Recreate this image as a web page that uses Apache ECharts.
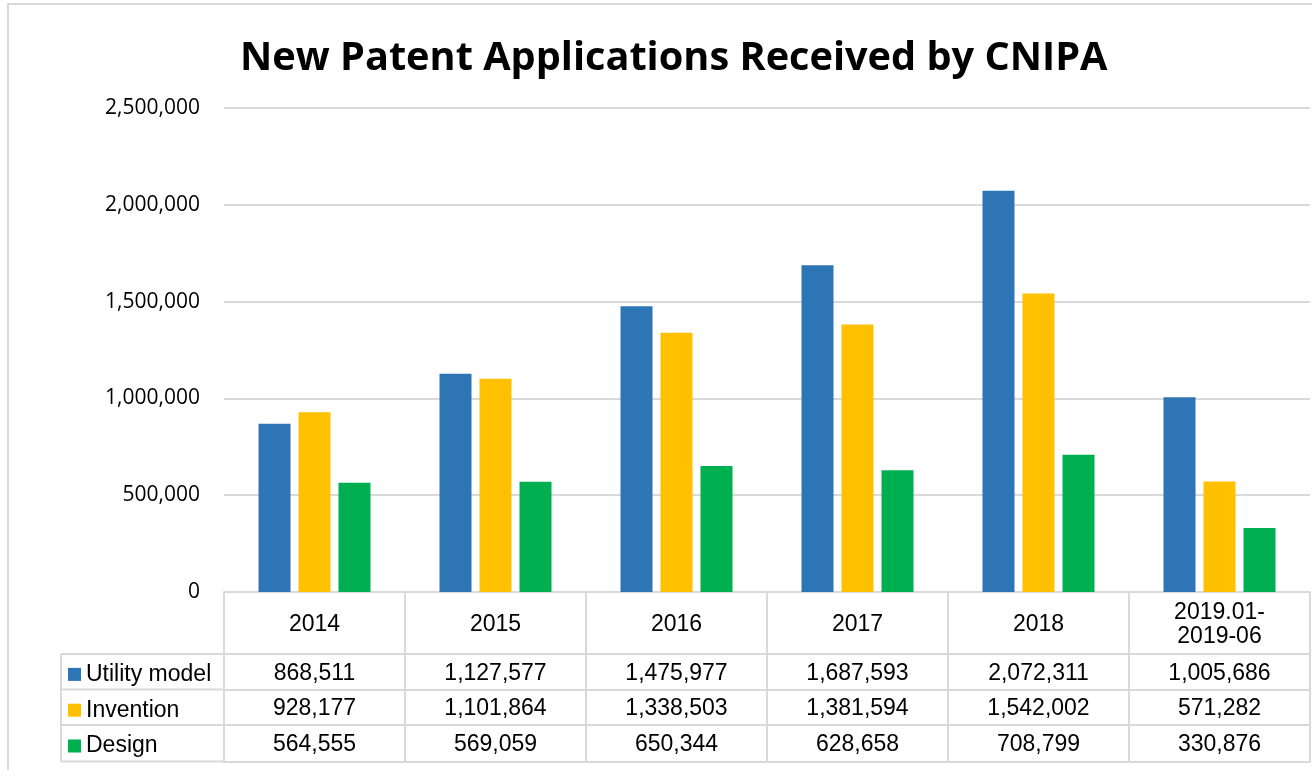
<!DOCTYPE html>
<html>
<head>
<meta charset="utf-8">
<script src="https://cdn.jsdelivr.net/npm/echarts@6/dist/echarts.min.js"></script>
<style>
  html, body { margin: 0; padding: 0; background: #fff; }
  #chart { width: 1312px; height: 770px; }
</style>
</head>
<body>
<div id="chart"></div>
<script>
const categories = ["2014", "2015", "2016", "2017", "2018", "2019.01-\n2019-06"];
const seriesNames = ["Utility model", "Invention", "Design"];
const utilityModel = [868511, 1127577, 1475977, 1687593, 2072311, 1005686];
const invention = [928177, 1101864, 1338503, 1381594, 1542002, 571282];
const design = [564555, 569059, 650344, 628658, 708799, 330876];
const seriesColors = ["#2E75B6", "#FFC000", "#00B050"];

const yMin = 0;
const yMax = 2500000;
const yStep = 500000;

const lineColor = "#d9d9d9";
const tableFont = "'Liberation Sans', Arial, sans-serif";
const rowTops = [62, 97.5, 133]; // offsets of data rows below the zero line
const tableBottom = 169.5;

const fmt = (v) => v.toLocaleString("en-US");
const seriesValues = [utilityModel, invention, design];

const chart = echarts.init(document.getElementById("chart"));

// one extra x axis per table row, used only for its line and labels
const rowAxes = seriesValues.map((vals, i) => ({
    type: "category",
    data: categories,
    position: "bottom",
    offset: rowTops[i],
    axisLine: { show: true, lineStyle: { color: lineColor, width: 2 } },
    axisTick: { show: false },
    axisLabel: {
        interval: 0,
        margin: 19.5,
        verticalAlign: "middle",
        fontFamily: tableFont,
        fontSize: 23,
        color: "#000",
        formatter: (value, idx) => fmt(vals[idx])
    }
}));

const option = {
    animation: false,
    backgroundColor: "#fff",
    title: {
        text: "New Patent Applications Received by CNIPA",
        left: 235,
        top: 34,
        textStyle: {
            fontFamily: "'Open Sans', sans-serif",
            fontWeight: "bold",
            fontSize: 39.7,
            color: "#000"
        }
    },
    legend: {
        data: seriesNames,
        orient: "vertical",
        left: 68,
        top: 656.5,
        padding: 0,
        itemWidth: 13,
        itemHeight: 13,
        itemGap: 0,
        icon: "rect",
        selectedMode: false,
        textStyle: { fontFamily: tableFont, fontSize: 23, lineHeight: 35.8, color: "#000" }
    },
    grid: { left: 224, right: 2, top: 108, bottom: 178, containLabel: false },
    xAxis: [
        {
            type: "category",
            data: categories,
            axisLine: { show: true, lineStyle: { color: lineColor, width: 2 } },
            axisTick: { show: true, interval: 0, length: tableBottom, lineStyle: { color: lineColor, width: 2 } },
            axisLabel: {
                interval: 0,
                margin: 33,
                verticalAlign: "middle",
                lineHeight: 24,
                fontFamily: tableFont,
                fontSize: 23,
                color: "#000"
            }
        },
        ...rowAxes,
        {
            type: "category",
            data: categories,
            position: "bottom",
            offset: tableBottom,
            axisLine: { show: true, lineStyle: { color: lineColor, width: 2 } },
            axisTick: { show: false },
            axisLabel: { show: false }
        }
    ],
    yAxis: {
        type: "value",
        min: yMin,
        max: yMax,
        interval: yStep,
        axisLine: { show: false },
        axisTick: { show: false },
        splitLine: { lineStyle: { color: lineColor, width: 2 } },
        axisLabel: {
            margin: 24,
            fontFamily: "'Open Sans', sans-serif",
            fontSize: 21,
            color: "#000",
            formatter: (v) => fmt(v)
        }
    },
    series: seriesValues.map((vals, i) => ({
        name: seriesNames[i],
        type: "bar",
        data: vals,
        barWidth: 32,
        barGap: "25%",
        itemStyle: { color: seriesColors[i] }
    })),
    graphic: [
        // outer chart frame
        {
            type: "rect",
            shape: { x: 8, y: 4, width: 1330, height: 800 },
            style: { fill: "none", stroke: lineColor, lineWidth: 2 },
            silent: true
        },
        // legend column of the data table
        ...[654, 689.5, 725, 761.5].map((y) => ({
            type: "line",
            shape: { x1: 61, y1: y, x2: 224, y2: y },
            style: { stroke: lineColor, lineWidth: 2 },
            silent: true
        })),
        {
            type: "line",
            shape: { x1: 61, y1: 654, x2: 61, y2: 761.5 },
            style: { stroke: lineColor, lineWidth: 2 },
            silent: true
        }
    ]
};

chart.setOption(option);
</script>
</body>
</html>
